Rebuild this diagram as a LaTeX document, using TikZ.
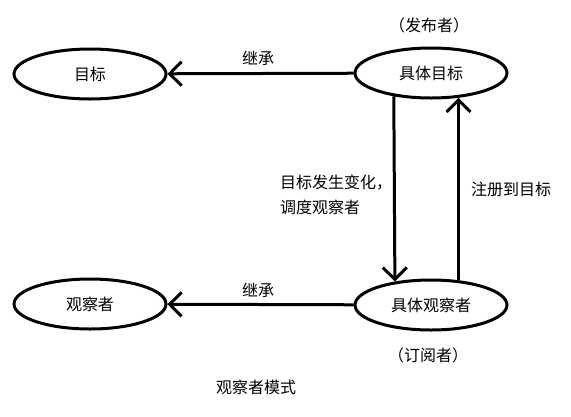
\documentclass[tikz,border=0pt]{standalone}
\usepackage{fontspec}
\setmainfont{Noto Sans CJK SC}
\usetikzlibrary{shapes.geometric,arrows.meta}
\tikzset{
  oval/.style={draw, ellipse, line width=3pt, minimum width=152pt, minimum height=50pt, inner sep=0pt},
  arr/.style={line width=3pt, -{Straight Barb[length=12pt,width=24pt,line width=3pt]}},
  lbl/.style={inner sep=0pt, font=\fontsize{16pt}{19pt}\selectfont, align=left},
}
\begin{document}
\begin{tikzpicture}[x=1pt,y=-1pt]
\useasboundingbox (0,0) rectangle (571,416);
\node[oval,lbl] (t) at (90,74) {目标};
\node[oval,lbl] (ct) at (431,73) {具体目标};
\node[oval,lbl] (o) at (90,304) {观察者};
\node[oval,lbl] (co) at (431,305) {具体观察者};
\draw[arr] (ct) -- (t);
\draw[arr] (co) -- (o);
\draw[arr] (ct.212.6) -- (co.147.4);
\draw[arr] (co.42) -- (ct.318);
\node[lbl] (l1) at (258,58) {继承};
\node[lbl] (l2) at (258,290) {继承};
\node[lbl,anchor=west] (l3) at (280,195) {目标发生变化，\\[6pt]调度观察者};
\node[lbl,anchor=west] (l4) at (471,189) {注册到目标};
\node[lbl] (p) at (429,25) {（发布者）};
\node[lbl] (s) at (428,355) {（订阅者）};
\node[lbl] (title) at (256,387) {观察者模式};
\end{tikzpicture}
\end{document}
